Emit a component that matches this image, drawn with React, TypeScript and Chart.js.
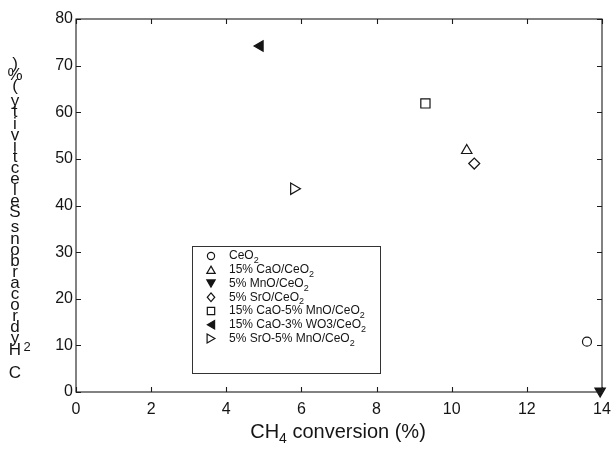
import React, { useEffect, useRef } from 'react';
import { Chart, registerables } from 'chart.js';

Chart.register(...registerables);

// ---------- data ----------
const seriesLabels = [
  'CeO₂',
  '15% CaO/CeO₂',
  '5% MnO/CeO₂',
  '5% SrO/CeO₂',
  '15% CaO-5% MnO/CeO₂',
  '15% CaO-3% WO3/CeO₂',
  '5% SrO-5% MnO/CeO₂',
];
const ch4Conversion = [13.6, 10.4, 13.95, 10.6, 9.3, 4.9, 5.8];
const c2Selectivity = [10.8, 51.8, 0.2, 49.0, 61.9, 74.2, 43.6];
const xTickValues = [0, 2, 4, 6, 8, 10, 12, 14];
const yTickValues = [0, 10, 20, 30, 40, 50, 60, 70, 80];
const xTitle = 'CH₄ conversion (%)';
const yTitle = 'C₂ Hydrocarbons Selectivity (%)';

// ---------- styles ----------
const FONT = '"Liberation Sans", Arial, Helvetica, sans-serif';
const INK = '#151515';
const MARKERS = [
  { style: 'circle', rotation: 0, filled: false, r: 4.5 },
  { style: 'triangle', rotation: 0, filled: false, r: 6 },
  { style: 'triangle', rotation: 180, filled: true, r: 6 },
  { style: 'rectRot', rotation: 0, filled: false, r: 5.5 },
  { style: 'rect', rotation: 0, filled: false, r: 6.5 },
  { style: 'triangle', rotation: -90, filled: true, r: 6 },
  { style: 'triangle', rotation: 90, filled: false, r: 6.5 },
];

const SUB: Record<string, string> = { '₀': '0', '₁': '1', '₂': '2', '₃': '3', '₄': '4' };

function drawRich(
  ctx: CanvasRenderingContext2D,
  text: string,
  x: number,
  y: number,
  size: number,
  align: 'left' | 'center' = 'left'
) {
  const parts: { t: string; sub: boolean }[] = [];
  for (const ch of Array.from(text)) {
    const sub = !!SUB[ch];
    const t = sub ? SUB[ch] : ch;
    const last = parts[parts.length - 1];
    if (last && last.sub === sub) last.t += t;
    else parts.push({ t, sub });
  }
  const subSize = Math.round(size * 0.72);
  let total = 0;
  const widths = parts.map((p) => {
    ctx.font = `${p.sub ? subSize : size}px ${FONT}`;
    const w = ctx.measureText(p.t).width;
    total += w;
    return w;
  });
  let cx = align === 'center' ? x - total / 2 : x;
  ctx.textAlign = 'left';
  ctx.textBaseline = 'middle';
  parts.forEach((p, i) => {
    ctx.font = `${p.sub ? subSize : size}px ${FONT}`;
    ctx.fillText(p.t, cx, p.sub ? y + size * 0.38 : y);
    cx += widths[i];
  });
}

function drawMarker(
  ctx: CanvasRenderingContext2D,
  m: { style: string; rotation: number; filled: boolean; r: number },
  x: number,
  y: number,
  r: number
) {
  ctx.save();
  ctx.translate(x, y);
  ctx.rotate((m.rotation * Math.PI) / 180);
  ctx.beginPath();
  if (m.style === 'circle') {
    ctx.arc(0, 0, r, 0, Math.PI * 2);
  } else if (m.style === 'triangle') {
    for (let k = 0; k < 3; k++) {
      const a = -Math.PI / 2 + (k * 2 * Math.PI) / 3;
      const px = Math.cos(a) * r;
      const py = Math.sin(a) * r + r * 0.25;
      if (k === 0) ctx.moveTo(px, py);
      else ctx.lineTo(px, py);
    }
    ctx.closePath();
  } else if (m.style === 'rectRot') {
    ctx.moveTo(0, -r);
    ctx.lineTo(r * 0.85, 0);
    ctx.lineTo(0, r);
    ctx.lineTo(-r * 0.85, 0);
    ctx.closePath();
  } else {
    const s = r * Math.SQRT1_2;
    ctx.rect(-s, -s, 2 * s, 2 * s);
  }
  ctx.fillStyle = m.filled ? INK : '#fff';
  ctx.fill();
  ctx.lineWidth = 1.2;
  ctx.strokeStyle = INK;
  ctx.stroke();
  ctx.restore();
}

const decorPlugin = {
  id: 'decor',
  afterDraw(chart: any) {
    const ctx: CanvasRenderingContext2D = chart.ctx;
    const { left, right, top, bottom } = chart.chartArea;
    const xs = chart.scales.x;
    const ys = chart.scales.y;
    ctx.save();
    // frame
    ctx.strokeStyle = '#1c1c1c';
    ctx.lineWidth = 1.1;
    ctx.strokeRect(left, top, right - left, bottom - top);
    // inward ticks on all sides
    const tl = 5;
    ctx.beginPath();
    xTickValues.forEach((v) => {
      const px = Math.round(xs.getPixelForValue(v)) + 0.5;
      ctx.moveTo(px, bottom);
      ctx.lineTo(px, bottom - tl);
      ctx.moveTo(px, top);
      ctx.lineTo(px, top + tl);
    });
    yTickValues.forEach((v) => {
      const py = Math.round(ys.getPixelForValue(v)) + 0.5;
      ctx.moveTo(left, py);
      ctx.lineTo(left + tl, py);
      ctx.moveTo(right, py);
      ctx.lineTo(right - tl, py);
    });
    ctx.stroke();

    ctx.fillStyle = INK;
    // x title
    drawRich(ctx, xTitle, (left + right) / 2 - 1, 432, 20, 'center');

    // y title: characters stacked from bottom to top
    ctx.font = `17px ${FONT}`;
    ctx.textAlign = 'center';
    ctx.textBaseline = 'middle';
    let cy = 373;
    const cxCol = 15;
    for (const ch of Array.from(yTitle)) {
      if (SUB[ch]) {
        ctx.font = `13px ${FONT}`;
        ctx.fillText(SUB[ch], cxCol + 12, cy - 14);
        ctx.font = `17px ${FONT}`;
        cy -= 8;
        continue;
      }
      if (ch === ' ') {
        cy -= 4;
        continue;
      }
      ctx.fillText(ch, cxCol, cy);
      cy -= 11.1;
    }

    // legend
    const bx = 192, by = 246, bw = 188, bh = 127;
    ctx.strokeStyle = '#333';
    ctx.lineWidth = 1;
    ctx.strokeRect(bx + 0.5, by + 0.5, bw, bh);
    seriesLabels.forEach((lab, i) => {
      const ry = by + 10 + i * 13.75;
      drawMarker(ctx, MARKERS[i], bx + 19, ry, MARKERS[i].r * 0.8);
      ctx.fillStyle = INK;
      drawRich(ctx, lab, bx + 37, ry, 12);
    });
    ctx.restore();
  },
};

export default function App() {
  const ref = useRef<HTMLCanvasElement | null>(null);
  useEffect(() => {
    if (!ref.current) return;
    const datasets = seriesLabels.map((label, i) => ({
      label,
      data: [{ x: ch4Conversion[i], y: c2Selectivity[i] }],
      pointStyle: MARKERS[i].style,
      rotation: MARKERS[i].rotation,
      pointRadius: MARKERS[i].r,
      pointBorderWidth: 1.2,
      pointBorderColor: INK,
      pointBackgroundColor: MARKERS[i].filled ? INK : '#fff',
      borderColor: INK,
      backgroundColor: MARKERS[i].filled ? INK : '#fff',
      clip: false as any,
    }));
    const chart = new Chart(ref.current, {
      type: 'scatter',
      data: { datasets },
      plugins: [decorPlugin],
      options: {
        animation: false,
        responsive: true,
        maintainAspectRatio: false,
        layout: { padding: { left: 0, top: 19, right: 11, bottom: 0 } },
        plugins: { legend: { display: false }, tooltip: { enabled: false } },
        scales: {
          x: {
            type: 'linear',
            min: 0,
            max: 14,
            afterFit: (s: any) => {
              s.height = 58;
              s.paddingLeft = 0;
              s.paddingRight = 0;
              s.paddingTop = 0;
              s.paddingBottom = 0;
            },
            afterBuildTicks: (s: any) => {
              s.ticks = xTickValues.map((v) => ({ value: v }));
            },
            grid: { display: false, drawTicks: false },
            border: { display: false },
            ticks: {
              padding: 8,
              color: INK,
              font: { family: FONT, size: 16 },
              maxRotation: 0,
              autoSkip: false,
            },
          },
          y: {
            type: 'linear',
            min: 0,
            max: 80,
            afterFit: (s: any) => {
              s.width = 76;
              s.paddingLeft = 0;
              s.paddingRight = 0;
              s.paddingTop = 0;
              s.paddingBottom = 0;
            },
            afterBuildTicks: (s: any) => {
              s.ticks = yTickValues.map((v) => ({ value: v }));
            },
            grid: { display: false, drawTicks: false },
            border: { display: false },
            ticks: {
              padding: 3,
              color: INK,
              font: { family: FONT, size: 16 },
              autoSkip: false,
            },
          },
        },
      },
    });
    return () => chart.destroy();
  }, []);
  return (
    <div style={{ position: 'fixed', left: 0, top: 0, width: 613, height: 450, background: '#fff' }}>
      <canvas ref={ref} />
    </div>
  );
}
